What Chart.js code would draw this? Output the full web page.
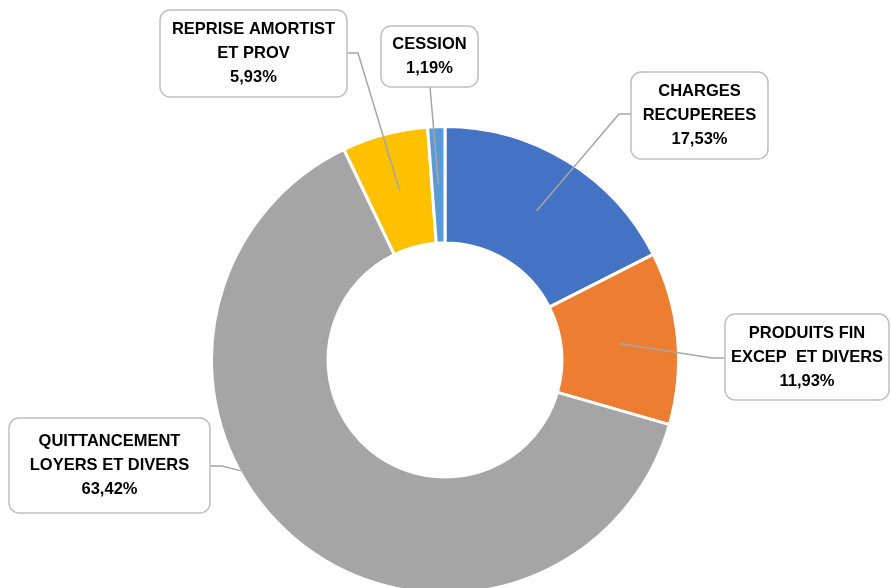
<!DOCTYPE html>
<html>
<head>
<meta charset="utf-8">
<script src="https://cdn.jsdelivr.net/npm/chart.js@4.4.1/dist/chart.umd.min.js"></script>
<style>
  html, body { margin: 0; padding: 0; background: #ffffff; overflow: hidden; width: 891px; height: 588px; }
  canvas { display: block; }
</style>
</head>
<body>
<canvas id="c" width="891" height="595"></canvas>
<script>
// ---- data ----
const categories = [
  ['CHARGES', 'RECUPEREES'],
  ['PRODUITS FIN', 'EXCEP  ET DIVERS'],
  ['QUITTANCEMENT', 'LOYERS ET DIVERS'],
  ['REPRISE AMORTIST', 'ET PROV'],
  ['CESSION']
];
const values = [17.53, 11.93, 63.42, 5.93, 1.19];
const colors = ['#4472C4', '#ED7D31', '#A5A5A5', '#FFC000', '#5B9BD5'];

// ---- label box layout (presentation only) ----
const labelLayout = [
  { box: [631, 72, 137, 87],  attach: [631, 114], elbow: [619, 114] },
  { box: [725, 314, 164, 86], attach: [725, 358], elbow: [712, 358] },
  { box: [9, 418, 201, 95],   attach: [210, 466], elbow: [222, 466], clipOuter: true },
  { box: [160, 10, 187, 87],  attach: [347, 53],  elbow: [358, 53] },
  { box: [381, 26, 97, 61],   attach: [430, 87],  elbow: [430, 87] }
];

function fmtPct(v) { return v.toFixed(2).replace('.', ',') + '%'; }

function roundRect(ctx, x, y, w, h, r) {
  ctx.beginPath();
  ctx.moveTo(x + r, y);
  ctx.lineTo(x + w - r, y);
  ctx.arcTo(x + w, y, x + w, y + r, r);
  ctx.lineTo(x + w, y + h - r);
  ctx.arcTo(x + w, y + h, x + w - r, y + h, r);
  ctx.lineTo(x + r, y + h);
  ctx.arcTo(x, y + h, x, y + h - r, r);
  ctx.lineTo(x, y + r);
  ctx.arcTo(x, y, x + r, y, r);
  ctx.closePath();
}

const calloutPlugin = {
  id: 'callouts',
  afterDatasetsDraw(chart) {
    const ctx = chart.ctx;
    const meta = chart.getDatasetMeta(0);
    meta.data.forEach((arc, i) => {
      const p = arc.getProps(['x', 'y', 'startAngle', 'endAngle', 'innerRadius', 'outerRadius'], true);
      const mid = (p.startAngle + p.endAngle) / 2;
      const r = (p.innerRadius + p.outerRadius) / 2;
      let ax = p.x + Math.cos(mid) * r;
      let ay = p.y + Math.sin(mid) * r;
      const L = labelLayout[i];
      const [ex, ey] = L.elbow;
      if (L.clipOuter) {
        // clip the leader where it meets the outer edge of the ring
        const R = p.outerRadius - 1.5;
        const dx = ax - ex, dy = ay - ey;
        const fx = ex - p.x, fy = ey - p.y;
        const A = dx * dx + dy * dy, B = 2 * (fx * dx + fy * dy), C = fx * fx + fy * fy - R * R;
        const disc = B * B - 4 * A * C;
        if (disc >= 0) {
          const t = (-B - Math.sqrt(disc)) / (2 * A);
          if (t > 0 && t < 1) { ax = ex + dx * t; ay = ey + dy * t; }
        }
      }
      ctx.save();
      ctx.strokeStyle = '#A6A6A6';
      ctx.lineWidth = 1.5;
      ctx.beginPath();
      ctx.moveTo(ax, ay);
      ctx.lineTo(ex, ey);
      ctx.lineTo(L.attach[0], L.attach[1]);
      ctx.stroke();

      const [bx, by, bw, bh] = L.box;
      roundRect(ctx, bx, by, bw, bh, 10);
      ctx.fillStyle = '#ffffff';
      ctx.fill();
      ctx.strokeStyle = '#BFBFBF';
      ctx.lineWidth = 1.5;
      ctx.stroke();

      const lines = categories[i].concat([fmtPct(values[i])]);
      ctx.fillStyle = '#000000';
      ctx.font = 'bold 16.5px "Liberation Sans", Arial, sans-serif';
      ctx.textAlign = 'center';
      ctx.textBaseline = 'middle';
      const lh = 24;
      const cy = by + bh / 2;
      const cx = bx + bw / 2;
      lines.forEach((t, k) => {
        ctx.fillText(t, cx, cy + (k - (lines.length - 1) / 2) * lh);
      });
      ctx.restore();
    });
  }
};

new Chart(document.getElementById('c'), {
  type: 'doughnut',
  data: {
    labels: categories,
    datasets: [{
      data: values,
      backgroundColor: colors,
      borderColor: '#ffffff',
      borderWidth: 3,
      hoverOffset: 0
    }]
  },
  options: {
    responsive: false,
    animation: false,
    cutout: '50.1%',
    layout: { padding: { top: 125, left: 210, right: 211, bottom: 0 } },
    plugins: {
      legend: { display: false },
      tooltip: { enabled: false },
      title: { display: false }
    }
  },
  plugins: [calloutPlugin]
});
</script>
</body>
</html>
